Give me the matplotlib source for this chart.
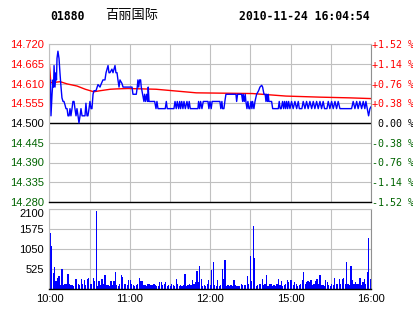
import matplotlib
matplotlib.use('Agg')
import matplotlib.pyplot as plt
import numpy as np

plt.rcParams['font.family'] = ['Liberation Sans', 'DejaVu Sans']

stock_code = '01880'
stock_name = '百丽国际'
stamp = '2010-11-24 16:04:54'
prev_close = 14.500

# time axis in minutes from the open, gridline every 30 minutes
time_ticks = [0, 60, 120, 180, 240]
time_labels = ['10:00', '11:00', '12:00', '15:00', '16:00']
price_ticks = [14.280, 14.335, 14.390, 14.445, 14.500, 14.555, 14.610, 14.665, 14.720]
volume_ticks = [525, 1050, 1575, 2100]

# last price
price_t = [0, 0.7, 1.1, 1.9, 2.6, 3.0, 3.4, 4.1, 4.9, 5.2, 5.6, 6.3, 7.1, 7.8, 8.6,
           9.3, 10.1, 10.8, 11.6, 12.3, 13.1, 13.8, 14.6, 15.3, 16.0, 16.8, 17.5,
           18.3, 19.0, 19.8, 20.5, 21.3, 22.0, 22.8, 23.5, 24.3, 26.5, 27.2, 28.0,
           28.7, 29.5, 30.2, 31.0, 31.7, 32.5, 33.2, 34.7, 36.2, 37.7, 38.4, 39.9,
           41.4, 42.2, 43.7, 44.4, 45.1, 46.6, 47.4, 48.9, 49.6, 50.4, 51.1, 51.9,
           52.6, 54.1, 54.9, 61.6, 62.3, 64.8, 65.5, 66.0, 66.6, 67.3, 68.0, 68.5,
           69.5, 70.5, 71.0, 71.8, 72.5, 73.3, 73.7, 74.3, 78.5, 79.5, 80.2, 81.0,
           86.4, 87.2, 87.9, 92.9, 93.7, 94.6, 95.4, 96.4, 97.2, 97.9, 98.7, 99.6,
           100.4, 101.4, 102.6, 103.6, 104.3, 105.1, 110.8, 111.3, 112.1, 112.8,
           113.8, 114.8, 118.3, 119.0, 119.8, 120.7, 121.4, 127.2, 127.9, 128.7,
           129.2, 130.2, 130.9, 131.7, 139.2, 139.7, 140.4, 143.4, 144.2, 144.6,
           145.4, 146.1, 146.6, 147.4, 148.1, 148.9, 149.6, 150.4, 151.1, 151.6,
           152.6, 153.4, 154.6, 156.1, 157.1, 158.4, 159.1, 160.1, 161.0, 161.6,
           162.1, 162.8, 163.3, 163.8, 165.8, 166.6, 170.8, 171.5, 172.2, 173.0,
           174.0, 174.8, 175.5, 176.3, 177.0, 177.8, 178.5, 179.5, 180.7, 181.9,
           183.2, 184.5, 185.7, 186.5, 188.4, 189.4, 190.7, 191.9, 193.1, 194.4,
           195.7, 196.9, 198.1, 199.4, 200.6, 201.9, 203.1, 204.3, 205.3, 207.1,
           208.1, 209.3, 210.6, 211.8, 213.1, 214.3, 215.5, 216.8, 225.5, 226.7,
           228.0, 229.3, 230.4, 231.7, 233.0, 234.2, 235.4, 236.2, 237.2, 238.2,
           239.2, 240]
price = [14.60, 14.62, 14.52, 14.58, 14.62, 14.60, 14.66, 14.60, 14.64, 14.62, 14.68,
         14.70, 14.68, 14.64, 14.60, 14.57, 14.56, 14.56, 14.55, 14.54, 14.54, 14.52,
         14.52, 14.54, 14.52, 14.54, 14.56, 14.56, 14.54, 14.52, 14.54, 14.52, 14.50,
         14.52, 14.54, 14.52, 14.52, 14.555, 14.52, 14.52, 14.54, 14.56, 14.54, 14.54,
         14.58, 14.59, 14.59, 14.607, 14.60, 14.607, 14.62, 14.62, 14.64, 14.66,
         14.64, 14.64, 14.65, 14.64, 14.66, 14.64, 14.64, 14.62, 14.60, 14.62, 14.61,
         14.60, 14.60, 14.58, 14.58, 14.60, 14.62, 14.60, 14.62, 14.62, 14.60, 14.58,
         14.56, 14.58, 14.56, 14.58, 14.56, 14.60, 14.56, 14.56, 14.54, 14.56, 14.54,
         14.54, 14.56, 14.54, 14.54, 14.56, 14.54, 14.56, 14.54, 14.56, 14.54, 14.56,
         14.54, 14.56, 14.54, 14.56, 14.54, 14.56, 14.54, 14.54, 14.56, 14.54, 14.56,
         14.54, 14.56, 14.56, 14.54, 14.56, 14.54, 14.56, 14.56, 14.54, 14.56, 14.54,
         14.54, 14.56, 14.58, 14.58, 14.56, 14.58, 14.58, 14.56, 14.58, 14.56, 14.58,
         14.56, 14.54, 14.56, 14.54, 14.54, 14.56, 14.54, 14.56, 14.54, 14.56, 14.58,
         14.59, 14.60, 14.605, 14.60, 14.58, 14.58, 14.56, 14.58, 14.56, 14.58, 14.56,
         14.56, 14.54, 14.54, 14.56, 14.54, 14.54, 14.56, 14.54, 14.56, 14.54, 14.56,
         14.54, 14.56, 14.54, 14.56, 14.54, 14.56, 14.54, 14.56, 14.54, 14.54, 14.56,
         14.54, 14.56, 14.54, 14.56, 14.54, 14.56, 14.54, 14.56, 14.54, 14.56, 14.54,
         14.56, 14.54, 14.54, 14.56, 14.54, 14.56, 14.54, 14.56, 14.54, 14.56, 14.54,
         14.54, 14.56, 14.54, 14.56, 14.54, 14.56, 14.54, 14.56, 14.54, 14.56, 14.54,
         14.52, 14.54, 14.545]

# average price line
avg_t = [0, 1.0, 8.0, 13.0, 20.5, 26.7, 33.0, 38.0, 45.4, 50.4, 58.6, 79.5, 94.6,
         109.6, 151.6, 176.5, 201.9, 224.3, 240]
avg_price = [14.660, 14.612, 14.615, 14.609, 14.603, 14.594, 14.587, 14.590, 14.594,
             14.595, 14.596, 14.594, 14.589, 14.584, 14.582, 14.575, 14.572, 14.570,
             14.568]

# traded volume per bucket, left to right
volume = [1460, 1110, 410, 570, 190, 280, 320, 105, 510, 105, 130, 130, 380, 130, 105,
          90, 60, 245, 245, 130, 105, 245, 130, 220, 105, 245, 290, 130, 130, 280, 190,
          2040, 60, 190, 90, 245, 130, 350, 105, 90, 60, 190, 90, 190, 440, 90, 60, 130,
          350, 310, 130, 130, 105, 220, 220, 130, 90, 60, 105, 130, 290, 190, 190, 90,
          105, 60, 130, 130, 90, 105, 130, 90, 60, 60, 175, 175, 90, 130, 175, 60, 105,
          60, 130, 105, 60, 245, 130, 60, 90, 60, 105, 380, 60, 90, 130, 105, 220, 130,
          175, 455, 175, 590, 245, 60, 90, 60, 130, 220, 105, 480, 690, 90, 60, 220, 60,
          90, 510, 260, 740, 60, 90, 60, 90, 60, 220, 90, 60, 60, 60, 130, 105, 90, 90,
          320, 130, 850, 190, 1660, 800, 60, 90, 130, 130, 260, 90, 130, 350, 60, 130,
          130, 60, 105, 60, 130, 245, 90, 190, 60, 105, 130, 220, 175, 220, 220, 105,
          175, 130, 60, 105, 130, 220, 440, 130, 175, 190, 175, 220, 105, 130, 190, 245,
          130, 350, 105, 90, 60, 220, 175, 90, 60, 130, 105, 290, 130, 130, 245, 130,
          245, 290, 130, 690, 130, 90, 590, 220, 130, 175, 130, 130, 290, 105, 175, 245,
          130, 430, 1340, 245]

RED = '#ff0000'
GREEN = '#006400'
GRID = '#c0c0c0'
W, H = 414, 314


def px_box(left, top, right, bottom):
    """Rectangle in pixels -> figure fraction"""
    return [left / W, 1 - bottom / H, (right - left) / W, (bottom - top) / H]


def style_axes(ax):
    ax.set_xlim(0, 240)
    ax.set_xticks(range(0, 241, 30))
    ax.grid(True, color=GRID, linewidth=0.8)
    ax.set_axisbelow(True)
    ax.tick_params(length=0)
    for side in ('top', 'left', 'right'):
        ax.spines[side].set_color(GRID)
        ax.spines[side].set_linewidth(0.8)
    ax.spines['right'].set_color('#909090')
    ax.spines['bottom'].set_color('black')
    ax.spines['bottom'].set_linewidth(1.0)


def label_color(value):
    if value > prev_close + 1e-9:
        return RED
    if value < prev_close - 1e-9:
        return GREEN
    return 'black'


fig = plt.figure(figsize=(W / 100, H / 100), dpi=100)

# price panel
ax = fig.add_axes(px_box(49.5, 44, 371, 202))
style_axes(ax)
ax.set_ylim(price_ticks[0], price_ticks[-1])
ax.set_yticks(price_ticks)
ax.set_xticklabels([])
ax.set_yticklabels(['%.3f' % p for p in price_ticks], fontsize=8)
for lab, p in zip(ax.get_yticklabels(), price_ticks):
    lab.set_color(label_color(p))
ax.tick_params(axis='y', pad=4)
ax.axhline(prev_close, color='black', linewidth=1.0)
ax.plot(avg_t, avg_price, color=RED, linewidth=1.0)
ax.plot(price_t, price, color='#0000ff', linewidth=1.0)

right = ax.twinx()
right.set_ylim(price_ticks[0], price_ticks[-1])
right.set_yticks(price_ticks)
pct_labels = []
for p in price_ticks:
    pct = (p - prev_close) / prev_close * 100
    if abs(pct) < 0.005:
        pct_labels.append(' 0.00 %')
    else:
        pct_labels.append('%+.2f %%' % pct)
right.set_yticklabels(pct_labels, fontsize=7.2, family='DejaVu Sans Mono')
for lab, p in zip(right.get_yticklabels(), price_ticks):
    lab.set_color(label_color(p))
right.tick_params(length=0, pad=0.5)
for side in right.spines:
    right.spines[side].set_visible(False)

# volume panel
vx = fig.add_axes(px_box(49.5, 209, 371, 288.5))
style_axes(vx)
vol_t = np.linspace(0.5, 239.5, len(volume))
vx.bar(vol_t, volume, width=0.9, color='#0000ff', linewidth=0, antialiased=False)
vx.set_ylim(0, volume_ticks[-1])
vx.set_yticks(volume_ticks)
vx.set_yticklabels([str(v) for v in volume_ticks], fontsize=8)
vx.get_yticklabels()[-1].set_va('top')
vx.tick_params(axis='y', pad=4)
vx.set_xticks(time_ticks, time_labels, fontsize=8)
vx.set_xticks(range(0, 241, 30), minor=True)
vx.grid(True, which='minor', color=GRID, linewidth=0.8)
vx.tick_params(axis='x', which='both', length=0, pad=4)

# header
fig.text(50 / W, 1 - 17 / H, stock_code, fontsize=8.3, fontweight='bold',
         family='DejaVu Sans Mono', va='center', ha='left')
fig.text(105 / W, 1 - 16 / H, stock_name, fontsize=9.5,
         family=['Noto Sans CJK SC', 'DejaVu Sans'], va='center', ha='left')
fig.text(370 / W, 1 - 17 / H, stamp, fontsize=8.3, fontweight='bold',
         family='DejaVu Sans Mono', va='center', ha='right')

fig.savefig('out.png', dpi=100)
